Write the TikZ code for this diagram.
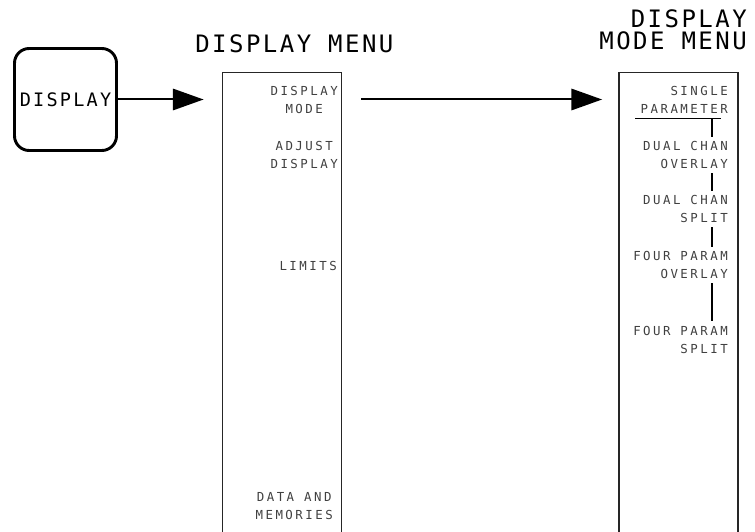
\documentclass[tikz,border=0pt]{standalone}
\usepackage{fontspec}
\newfontfamily\titlefont[LetterSpace=10.3]{DejaVu Sans Mono}
\newfontfamily\keyfont[LetterSpace=12]{DejaVu Sans Mono}
\newfontfamily\menufont[LetterSpace=20]{DejaVu Sans Mono}
\usetikzlibrary{arrows.meta}

\tikzset{
  keybox/.style={draw, line width=2.2pt, rounded corners=11pt,
    minimum width=76.5pt, minimum height=76.5pt, inner sep=0pt,
    font=\keyfont\fontsize{13.9pt}{16pt}\selectfont},
  menubox/.style={draw=black!85, line width=1.1pt,
    minimum width=89.5pt, minimum height=355pt, inner sep=0pt},
  menutitle/.style={inner sep=0pt, font=\titlefont\fontsize{18pt}{17pt}\selectfont},
  menuitem/.style={anchor=north east, inner sep=0pt, text=black!75,
    font=\menufont\fontsize{9.3pt}{13.5pt}\selectfont},
  bigarrow/.style={line width=1.5pt, -{Triangle[length=23pt, width=16pt]}},
  link/.style={line width=0.9pt, shorten <=3pt, shorten >=3.5pt}
}

\begin{document}
\begin{tikzpicture}[x=0.75pt, y=-0.75pt]
    \useasboundingbox (0,0) rectangle (755,531);

    % キー
    \node[keybox] (key) at (65.5,99.5) {DISPLAY};

    % メニューの枠（下は切れている）
    \node[menubox] (menu) at (282,309) {};
    \node[menubox] (modemenu) at (678.5,309) {};

    % 見出し
    \node[menutitle, anchor=base west] (menutitle) at (195,53) {DISPLAY MENU};
    \node[menutitle, anchor=north east, align=right] (modetitle) at (747,9) {DISPLAY\\MODE MENU};

    % 矢印
    \draw[bigarrow, shorten >=13.5pt] (key) -- (key -| menu.west);
    \draw[bigarrow, shorten <=14pt, shorten >=12pt] (menu.east |- key) -- (modemenu.west |- key);

    % DISPLAY MENU の項目
    \node[menuitem, align=center] (dispmode) at (338,86.5) {DISPLAY\\MODE};
    \node[menuitem, align=center] (adjust) at (338,141.5) {ADJUST\\DISPLAY};
    \node[menuitem] (limits) at (337,261) {LIMITS};
    \node[menuitem, align=center] (datamem) at (333,492.5) {DATA AND\\MEMORIES};

    % DISPLAY MODE MENU の項目
    \foreach \name/\y/\txt in {single/86.5/{SINGLE\\PARAMETER},
        dualov/141.5/{DUAL CHAN\\OVERLAY}, dualsp/195.5/{DUAL CHAN\\SPLIT},
        fourov/251.5/{FOUR PARAM\\OVERLAY}, foursp/326/{FOUR PARAM\\SPLIT}} {
        \node[menuitem, align=right] (\name) at (728,\y) {\txt};
    }

    % 選択中の下線と縦線
    \draw[line width=0.9pt] ([xshift=-3.75pt, yshift=-3pt]single.south west)
        -- ([xshift=-5pt, yshift=-3pt]single.south east);
    \coordinate (bar) at (712,0);
    \foreach \a/\b in {single/dualov, dualov/dualsp, dualsp/fourov, fourov/foursp} {
        \draw[link] (bar |- \a.south) -- (bar |- \b.north);
    }
\end{tikzpicture}
\end{document}
